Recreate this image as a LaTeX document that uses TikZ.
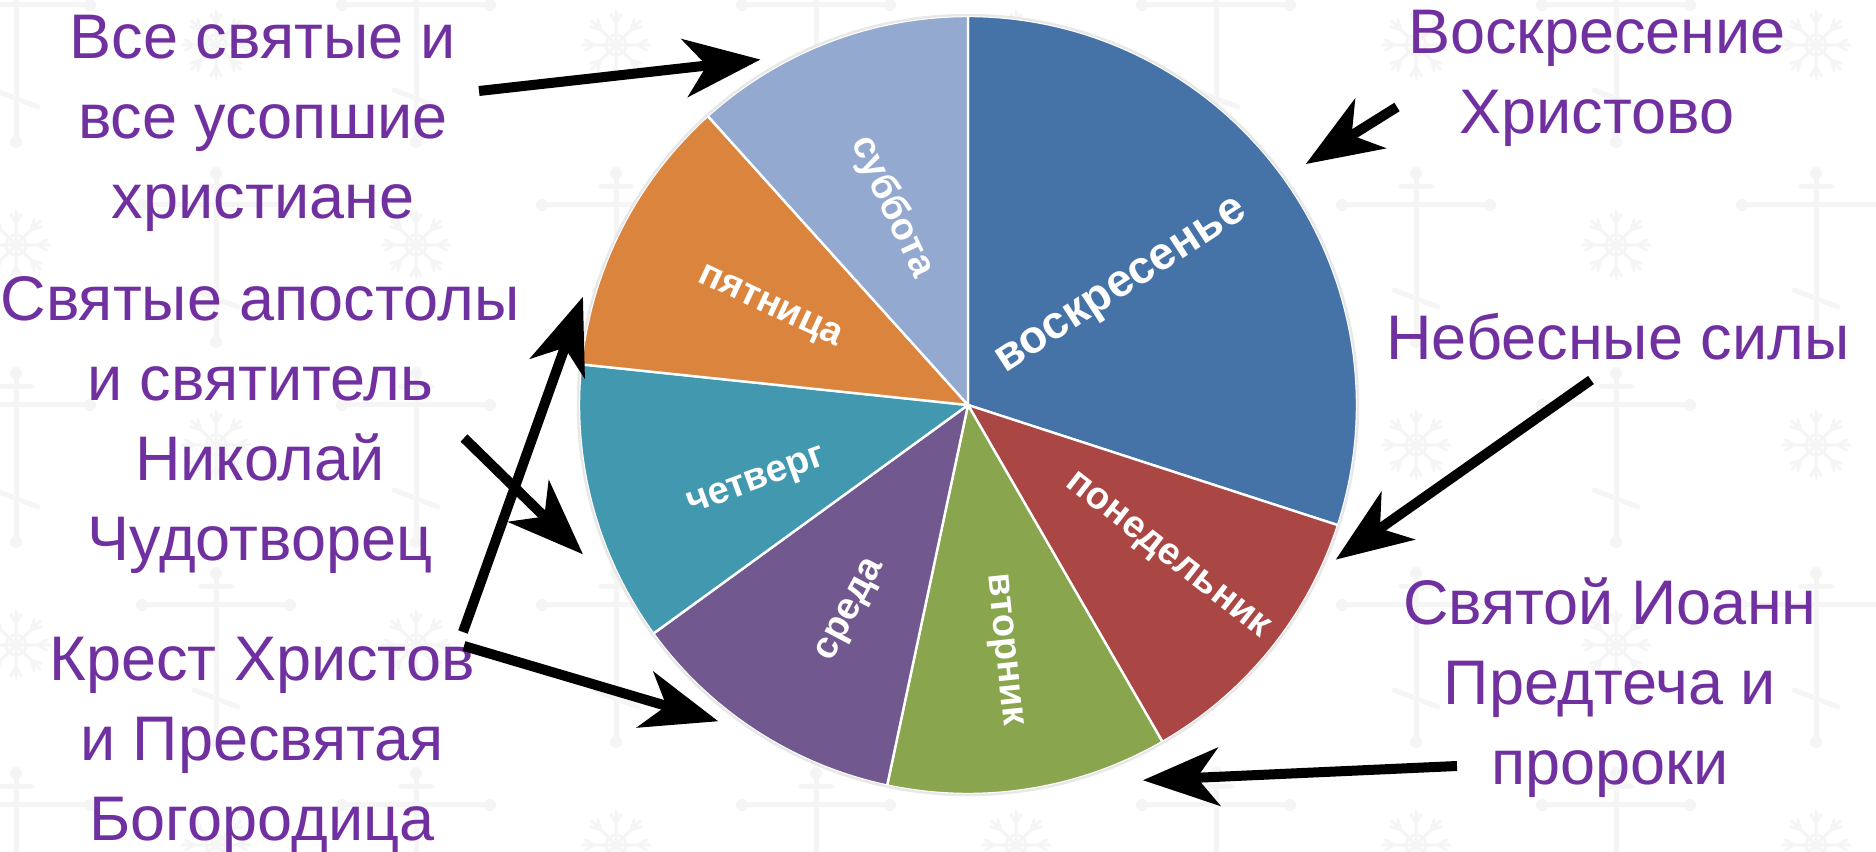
\documentclass[tikz,border=0pt]{standalone}
\usepackage{fontspec}
\setmainfont{Liberation Sans}
\usepackage{tikz}
\usetikzlibrary{arrows.meta,calc}
\definecolor{roxo}{RGB}{112,48,160}
\definecolor{azul}{RGB}{69,114,167}
\definecolor{vermelho}{RGB}{170,70,67}
\definecolor{verde}{RGB}{137,165,78}
\definecolor{lilas}{RGB}{113,88,143}
\definecolor{turquesa}{RGB}{65,152,175}
\definecolor{laranja}{RGB}{219,132,61}
\definecolor{celeste}{RGB}{147,169,207}
\tikzstyle{texto}=[inner sep=0pt,align=center,text=roxo,font=\fontsize{31.5}{40}\selectfont]
\tikzstyle{dia}=[inner sep=0pt,text=white,font=\bfseries\fontsize{19}{22}\selectfont]
\tikzstyle{seta}=[line width=5pt,-{Stealth[length=38pt,width=29pt,inset=11pt]}]
\tikzstyle{fatia}=[draw=white,line width=1.2pt,line join=round]
\tikzstyle{fundo}=[draw=black!4,line width=2.5pt,line cap=round]
\tikzset{
  cruzfundo/.pic={
    \draw[fundo] (0,70) -- (0,-95);
    \draw[fundo] (-72,40) -- (72,40);
    \draw[fundo] (-15,58) -- (15,58);
    \draw[fundo] (-22,-45) -- (22,-62);
    \fill[black!4] (0,72) circle[radius=6] (0,-97) circle[radius=6]
      (-74,40) circle[radius=6] (74,40) circle[radius=6];
  },
  floco/.pic={
    \foreach \a in {0,45,...,315}
      \draw[fundo,line width=1.5pt] (0,0) -- (\a:34) (\a:22) -- ++(\a+30:10) (\a:22) -- ++(\a-30:10);
    \draw[fundo,line width=1.5pt] (0,0) circle[radius=10];
  }
}

\begin{document}
\begin{tikzpicture}[x=0.5pt,y=0.5pt]
    \useasboundingbox (0,0) rectangle (1876,852);
    \fill[white] (0,0) rectangle (1876,852);
    % fundo
    \foreach \i in {0,...,9}
      \foreach \j in {0,...,4}{
        \pgfmathtruncatemacro{\paridade}{mod(\i+\j,2)}
        \ifnum\paridade=0
          \pic at (16+200*\i,807-200*\j) {cruzfundo};
        \else
          \pic at (16+200*\i,807-200*\j) {floco};
        \fi
      }
    \coordinate (c) at (968,447);
    % pizza
    \filldraw[fatia,fill=azul] (c) -- ++(90:389) arc[start angle=90,end angle=-18,radius=389] -- cycle;
    \filldraw[fatia,fill=vermelho] (c) -- ++(-18:389) arc[start angle=-18,end angle=-60,radius=389] -- cycle;
    \filldraw[fatia,fill=verde] (c) -- ++(-60:389) arc[start angle=-60,end angle=-102,radius=389] -- cycle;
    \filldraw[fatia,fill=lilas] (c) -- ++(-102:389) arc[start angle=-102,end angle=-144,radius=389] -- cycle;
    \filldraw[fatia,fill=turquesa] (c) -- ++(-144:389) arc[start angle=-144,end angle=-186,radius=389] -- cycle;
    \filldraw[fatia,fill=laranja] (c) -- ++(-186:389) arc[start angle=-186,end angle=-228,radius=389] -- cycle;
    \filldraw[fatia,fill=celeste] (c) -- ++(-228:389) arc[start angle=-228,end angle=-270,radius=389] -- cycle;
    \draw[white!82!gray,line width=1.2pt] (c) circle[radius=390];
    % dias
    \node [dia,rotate=33,font=\bfseries\fontsize{23}{26}\selectfont] (dom) at ($(c)+(37:194)$) {воскресенье};
    \node [dia,rotate=-38] (seg) at ($(c)+(-37.4:250)$) {понедельник};
    \node [dia,rotate=-84] (ter) at ($(c)+(-82:247)$) {вторник};
    \node [dia,rotate=62] (qua) at ($(c)+(-119.5:236)$) {среда};
    \node [dia,rotate=20] (qui) at ($(c)+(-159.7:225)$) {четверг};
    \node [dia,rotate=-25] (sex) at ($(c)+(154:221)$) {пятница};
    \node [dia,rotate=-65] (sab) at ($(c)+(111:212)$) {суббота};
    % legendas
    \node [texto] (todos) at (263,729) {Все святые и\\все усопшие\\христиане};
    \node [texto] (apostolos) at (260,427) {Святые апостолы\\и святитель\\Николай\\Чудотворец};
    \node [texto] (cruz) at (262,107) {Крест Христов\\и Пресвятая\\Богородица};
    \node [texto] (ressur) at (1597,774) {Воскресение\\Христово};
    \node [texto] (anjos) at (1618,515) {Небесные силы};
    \node [texto] (joao) at (1610,164) {Святой Иоанн\\Предтеча и\\пророки};
    % setas
    \coordinate (pTodos) at (479,761);
    \coordinate (pRessur) at (1397,745);
    \coordinate (pAnjos) at (1591,472);
    \coordinate (pJoao) at (1457,86);
    \coordinate (pApost) at (464,414);
    \coordinate (pCruzA) at (463,220);
    \coordinate (pCruzB) at (464,206);
    \coordinate (aSab) at ($(c)+(121:403)$);
    \coordinate (aDom) at ($(c)+(35.5:415)$);
    \coordinate (aSeg) at ($(c)+(-22.8:399)$);
    \coordinate (aTer) at ($(c)+(-65:414)$);
    \coordinate (aSex) at ($(c)+(164.3:400)$);
    \coordinate (aQui) at ($(c)+(-158.8:413)$);
    \coordinate (aQua) at ($(c)+(-128.3:403)$);
    \draw [seta] (pTodos) -- (aSab);
    \draw [seta] (pRessur) -- (aDom);
    \draw [seta] (pAnjos) -- (aSeg);
    \draw [seta] (pJoao) -- (aTer);
    \draw [seta] (pApost) -- (aQui);
    \draw [seta] (pCruzA) -- (aSex);
    \draw [seta] (pCruzB) -- (aQua);
\end{tikzpicture}
\end{document}
